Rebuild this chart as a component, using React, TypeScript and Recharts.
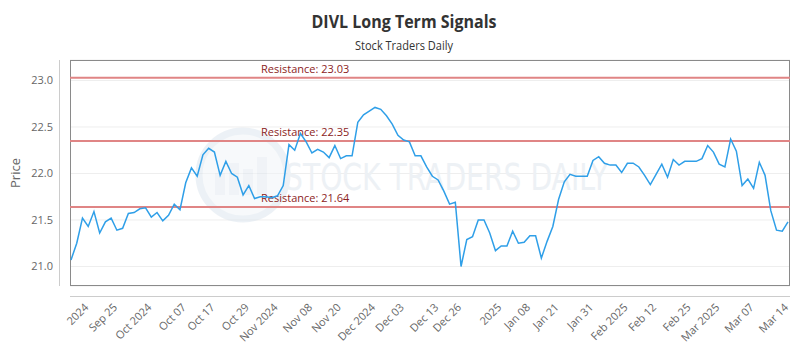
import React from 'react';
import {
  LineChart,
  Line,
  XAxis,
  YAxis,
  CartesianGrid,
  ReferenceLine,
  Customized,
  usePlotArea,
} from 'recharts';

const chartTitle = 'DIVL Long Term Signals';
const chartSubtitle = 'Stock Traders Daily';
const yAxisTitle = 'Price';
const watermarkText = 'STOCK TRADERS DAILY';

const prices: number[] = [
  21.07, 21.25, 21.52, 21.43, 21.59, 21.36, 21.48, 21.52, 21.39, 21.41,
  21.57, 21.58, 21.62, 21.63, 21.53, 21.58, 21.49, 21.55, 21.67, 21.61,
  21.9, 22.06, 21.97, 22.2, 22.27, 22.23, 21.98, 22.13, 22.0, 21.96,
  21.77, 21.87, 21.73, 21.75, 21.75, 21.74, 21.76, 21.87, 22.31, 22.25,
  22.43, 22.34, 22.22, 22.26, 22.23, 22.17, 22.3, 22.16, 22.19, 22.19,
  22.55, 22.63, 22.67, 22.71, 22.69, 22.62, 22.53, 22.41, 22.36, 22.34,
  22.19, 22.19, 22.07, 21.97, 21.93, 21.81, 21.67, 21.69, 21.0, 21.29,
  21.32, 21.5, 21.5, 21.36, 21.17, 21.22, 21.22, 21.38, 21.25, 21.26,
  21.33, 21.33, 21.09, 21.27, 21.43, 21.72, 21.91, 21.99, 21.97, 21.97,
  21.97, 22.14, 22.18, 22.11, 22.09, 22.09, 22.01, 22.11, 22.11, 22.07,
  21.98, 21.88, 21.99, 22.1, 21.96, 22.15, 22.09, 22.13, 22.13, 22.13,
  22.16, 22.3, 22.23, 22.1, 22.07, 22.37, 22.24, 21.87, 21.94, 21.84,
  22.12, 21.98, 21.6, 21.39, 21.38, 21.48,
];

const xTickIndices: number[] = [
  3, 8, 14, 20, 25, 31, 36, 42, 47, 53, 58, 64, 68, 75, 80, 85, 91, 97, 102, 108, 113, 119, 125,
];
const xTickLabels: string[] = [
  '2024', 'Sep 25', 'Oct 2024', 'Oct 07', 'Oct 17', 'Oct 29', 'Nov 2024', 'Nov 08', 'Nov 20',
  'Dec 2024', 'Dec 03', 'Dec 13', 'Dec 26', '2025', 'Jan 08', 'Jan 21', 'Jan 31', 'Feb 2025',
  'Feb 12', 'Feb 25', 'Mar 2025', 'Mar 07', 'Mar 14',
];

const yTicks: number[] = [21.0, 21.5, 22.0, 22.5, 23.0];
const yDomain: [number, number] = [20.79, 23.22];
const resistanceLevels: number[] = [23.03, 22.35, 21.64];

const data = prices.map((price, i) => ({ i, price }));

const FONT = '"Open Sans", "Noto Sans", sans-serif';

const XTick = (props: any) => {
  const { x, y, payload } = props;
  const idx = xTickIndices.indexOf(payload.value);
  const label = idx >= 0 ? xTickLabels[idx] : '';
  const ax = x + 1;
  const ay = y + 22;
  return (
    <text
      x={ax}
      y={ay}
      transform={`rotate(-45, ${ax}, ${ay})`}
      textAnchor="end"
      fontSize={11}
      fill="#666666"
      fontFamily={FONT}
    >
      {label}
    </text>
  );
};

const Background = () => {
  const plot = usePlotArea ? usePlotArea() : null;
  if (!plot) return null;
  const cx = plot.x + 173;
  const cy = plot.y + 115;
  return (
    <g>
      <g opacity={0.5}>
        <circle cx={cx} cy={cy} r={44} fill="#f0f4f8" stroke="#dbe5ee" strokeWidth={7} />
        <rect x={cx - 28} y={cy - 2} width={10} height={22} fill="#e2e9f0" />
        <rect x={cx - 14} y={cy - 12} width={10} height={32} fill="#e2e9f0" />
        <rect x={cx} y={cy - 6} width={10} height={26} fill="#e2e9f0" />
        <rect x={cx + 14} y={cy - 18} width={10} height={38} fill="#e2e9f0" />
      </g>
      <text
        x={plot.x + 215}
        y={plot.y + 130}
        fontSize={38}
        fontFamily='"DejaVu Sans Condensed", "DejaVu Sans", sans-serif'
        fill="#edf1f5"
        textLength={323}
        lengthAdjust="spacingAndGlyphs"
      >
        {watermarkText}
      </text>
    </g>
  );
};

const Frame = () => {
  const plot = usePlotArea ? usePlotArea() : null;
  if (!plot) return null;
  return (
    <g>
      <rect
        x={plot.x + 0.5}
        y={plot.y + 0.5}
        width={plot.width - 1}
        height={plot.height - 1}
        fill="none"
        stroke="#8a8a8a"
        strokeWidth={1}
      />
      <line x1={plot.x - 10.5} x2={plot.x - 10.5} y1={plot.y} y2={plot.y + plot.height} stroke="#cccccc" />
      <line x1={plot.x} x2={plot.x + plot.width} y1={plot.y + plot.height + 10.5} y2={plot.y + plot.height + 10.5} stroke="#cccccc" />
      <text
        x={plot.x - 55}
        y={plot.y + plot.height / 2}
        transform={`rotate(-90, ${plot.x - 55}, ${plot.y + plot.height / 2})`}
        textAnchor="middle"
        dominantBaseline="central"
        fontSize={13}
        fill="#666666"
        fontFamily={FONT}
      >
        {yAxisTitle}
      </text>
    </g>
  );
};

const resistanceLabel = (level: number) => (props: any) => {
  const vb = props.viewBox || {};
  return (
    <text
      x={(vb.x || 0) + 191}
      y={(vb.y || 0) - 5}
      fontSize={11}
      fill="#8b2323"
      fontFamily={FONT}
    >
      {`Resistance: ${level.toFixed(2)}`}
    </text>
  );
};

export default function App() {
  return (
    <div style={{ position: 'absolute', left: 0, top: 0, width: 800, height: 350, background: '#ffffff' }}>
      <svg
        width={800}
        height={60}
        style={{ position: 'absolute', left: 0, top: 0, pointerEvents: 'none' }}
      >
        <text
          x={404}
          y={28}
          textAnchor="middle"
          fontSize={18}
          fontWeight={700}
          fill="#333333"
          fontFamily={FONT}
          textLength={185}
          lengthAdjust="spacingAndGlyphs"
        >
          {chartTitle}
        </text>
        <text
          x={404}
          y={50}
          textAnchor="middle"
          fontSize={12}
          fill="#333333"
          fontFamily={FONT}
          textLength={98}
          lengthAdjust="spacingAndGlyphs"
        >
          {chartSubtitle}
        </text>
      </svg>
      <LineChart
        width={800}
        height={350}
        data={data}
        margin={{ top: 60, right: 10, bottom: 0, left: 0 }}
      >
        <Customized component={Background} />
        <CartesianGrid horizontal vertical={false} stroke="#eeeeee" />
        <XAxis
          type="number"
          dataKey="i"
          domain={[0, prices.length - 1]}
          ticks={xTickIndices}
          interval={0}
          padding={{ left: 1, right: 2 }}
          tickLine={false}
          axisLine={false}
          tickSize={0}
          tickMargin={0}
          height={64}
          tick={<XTick />}
        />
        <YAxis
          type="number"
          domain={yDomain}
          ticks={yTicks}
          allowDataOverflow
          width={70}
          tickLine={false}
          axisLine={false}
          tickSize={0}
          tickMargin={17}
          tickFormatter={(v: number) => v.toFixed(1)}
          tick={{ fontSize: 11, fill: '#666666', fontFamily: FONT }}
        />
        {resistanceLevels.map((level) => (
          <ReferenceLine
            key={level}
            y={level}
            stroke="#e08585"
            strokeWidth={2}
            label={resistanceLabel(level)}
          />
        ))}
        <Line
          type="linear"
          dataKey="price"
          stroke="#2f9fe8"
          strokeWidth={1.5}
          dot={false}
          isAnimationActive={false}
        />
        <Customized component={Frame} />
      </LineChart>
    </div>
  );
}
